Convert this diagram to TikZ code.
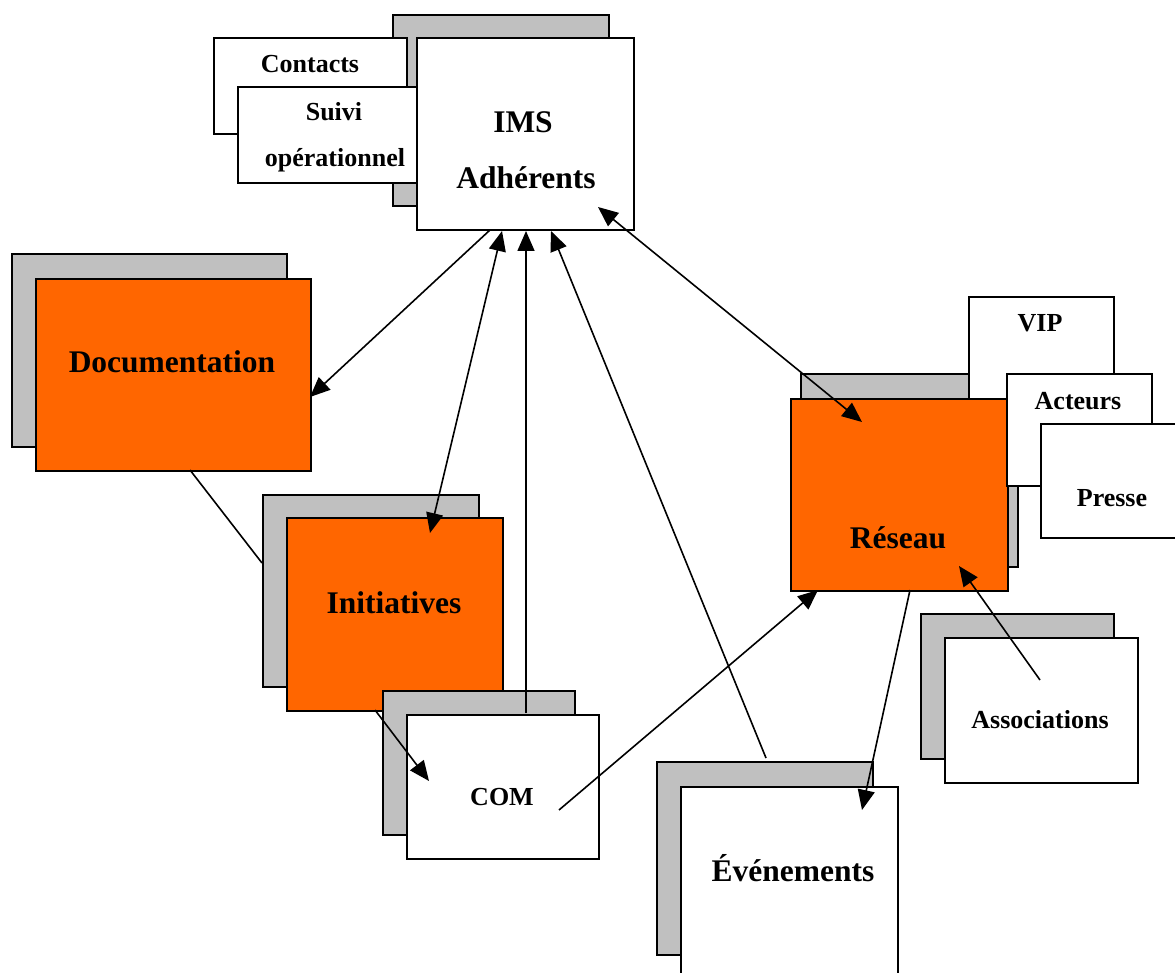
\documentclass[tikz,border=0pt]{standalone}
\usepackage{fontspec}
\setmainfont{Liberation Serif}
\usetikzlibrary{arrows.meta}
\definecolor{boxorange}{HTML}{FF6600}
\definecolor{shadowgray}{HTML}{C0C0C0}
\tikzset{
  box/.style={draw=black, line width=1.6pt, inner sep=0pt, anchor=north west},
  shadowbox/.style={box, fill=shadowgray},
  whitebox/.style={box, fill=white},
  orangebox/.style={box, fill=boxorange},
  bigtext/.style={anchor=base, inner sep=0pt, font=\fontsize{31.5}{36}\selectfont\bfseries},
  smalltext/.style={anchor=base, inner sep=0pt, font=\fontsize{26}{30}\selectfont\bfseries},
  link/.style={line width=1.6pt},
  arr/.style={link, -{Triangle[length=20pt,width=17pt]}},
  darr/.style={link, {Triangle[length=20pt,width=17pt]}-{Triangle[length=20pt,width=17pt]}}
}
\begin{document}
\begin{tikzpicture}[x=1pt,y=-1pt]
\useasboundingbox (0,0) rectangle (1175,973);
% IMS group
\node[shadowbox, minimum width=216pt, minimum height=191pt] (imsS) at (392,14) {};
\node[whitebox, minimum width=193pt, minimum height=96pt] (contacts) at (213,37) {};
\node[whitebox, minimum width=190pt, minimum height=96pt] (suivi) at (237,86) {};
\node[whitebox, minimum width=217pt, minimum height=192pt] (ims) at (416,37) {};
% Documentation
\node[shadowbox, minimum width=275pt, minimum height=193pt] (docS) at (11,253) {};
\node[orangebox, minimum width=275pt, minimum height=192pt] (doc) at (35,278) {};
% Initiatives
\node[shadowbox, minimum width=216pt, minimum height=192pt] (initS) at (262,494) {};
\node[orangebox, minimum width=216pt, minimum height=193pt] (init) at (286,517) {};
% COM
\node[shadowbox, minimum width=192pt, minimum height=144pt] (comS) at (382,690) {};
\node[whitebox, minimum width=192pt, minimum height=144pt] (com) at (406,714) {};
% Evenements
\node[shadowbox, minimum width=216pt, minimum height=193pt] (evtS) at (656,761) {};
\node[whitebox, minimum width=217pt, minimum height=230pt] (evt) at (680,786) {};
% Reseau group
\node[shadowbox, minimum width=217pt, minimum height=193pt] (resS) at (800,373) {};
\node[whitebox, minimum width=145pt, minimum height=144pt] (vip) at (968,296) {};
\node[orangebox, minimum width=217pt, minimum height=192pt] (res) at (790,398) {};
\node[whitebox, minimum width=145pt, minimum height=112pt] (act) at (1006,373) {};
\node[whitebox, minimum width=150pt, minimum height=114pt] (pre) at (1040,423) {};
% Associations
\node[shadowbox, minimum width=193pt, minimum height=145pt] (assS) at (920,613) {};
\node[whitebox, minimum width=193pt, minimum height=145pt] (ass) at (944,637) {};
% Texts
\node[smalltext] (tcontacts) at (310,73) {Contacts};
\node[smalltext] (tsuivi) at (334,121) {Suivi};
\node[smalltext] (toper) at (335,167) {opérationnel};
\node[bigtext] (tims) at (523,133) {IMS};
\node[bigtext] (tadh) at (526,189) {Adhérents};
\node[bigtext] (tdoc) at (172,373) {Documentation};
\node[bigtext] (tinit) at (394,613) {Initiatives};
\node[smalltext] (tcom) at (502,805) {COM};
\node[bigtext] (tevt) at (793,881) {Événements};
\node[bigtext] (tres) at (898,548) {Réseau};
\node[smalltext] (tvip) at (1040,332) {VIP};
\node[smalltext] (tact) at (1078,409) {Acteurs};
\node[smalltext] (tpre) at (1112,506) {Presse};
\node[smalltext] (tass) at (1040,728) {Associations};
% Connector end points
\coordinate (imsA) at (490,230);
\coordinate (docA) at (310,397);
\coordinate (imsB) at (502,231);
\coordinate (initA) at (430,533);
\coordinate (imsC) at (526,231);
\coordinate (comA) at (526,713);
\coordinate (imsD) at (551,231);
\coordinate (evtA) at (766,758);
\coordinate (imsE) at (598,207);
\coordinate (resA) at (862,422);
\coordinate (docB) at (190,470);
\coordinate (initB) at (262,563);
\coordinate (initC) at (375,710);
\coordinate (comB) at (429,781);
\coordinate (comC) at (559,810);
\coordinate (resB) at (818,590);
\coordinate (resC) at (910,590);
\coordinate (evtB) at (862,810);
\coordinate (assA) at (1040,680);
\coordinate (resD) at (959,566);
% Connectors
\draw[arr] (imsA) -- (docA);
\draw[darr] (imsB) -- (initA);
\draw[arr] (comA) -- (imsC);
\draw[arr] (evtA) -- (imsD);
\draw[darr] (imsE) -- (resA);
\draw[link] (docB) -- (initB);
\draw[arr] (initC) -- (comB);
\draw[arr] (comC) -- (resB);
\draw[arr] (resC) -- (evtB);
\draw[arr] (assA) -- (resD);
\end{tikzpicture}
\end{document}
